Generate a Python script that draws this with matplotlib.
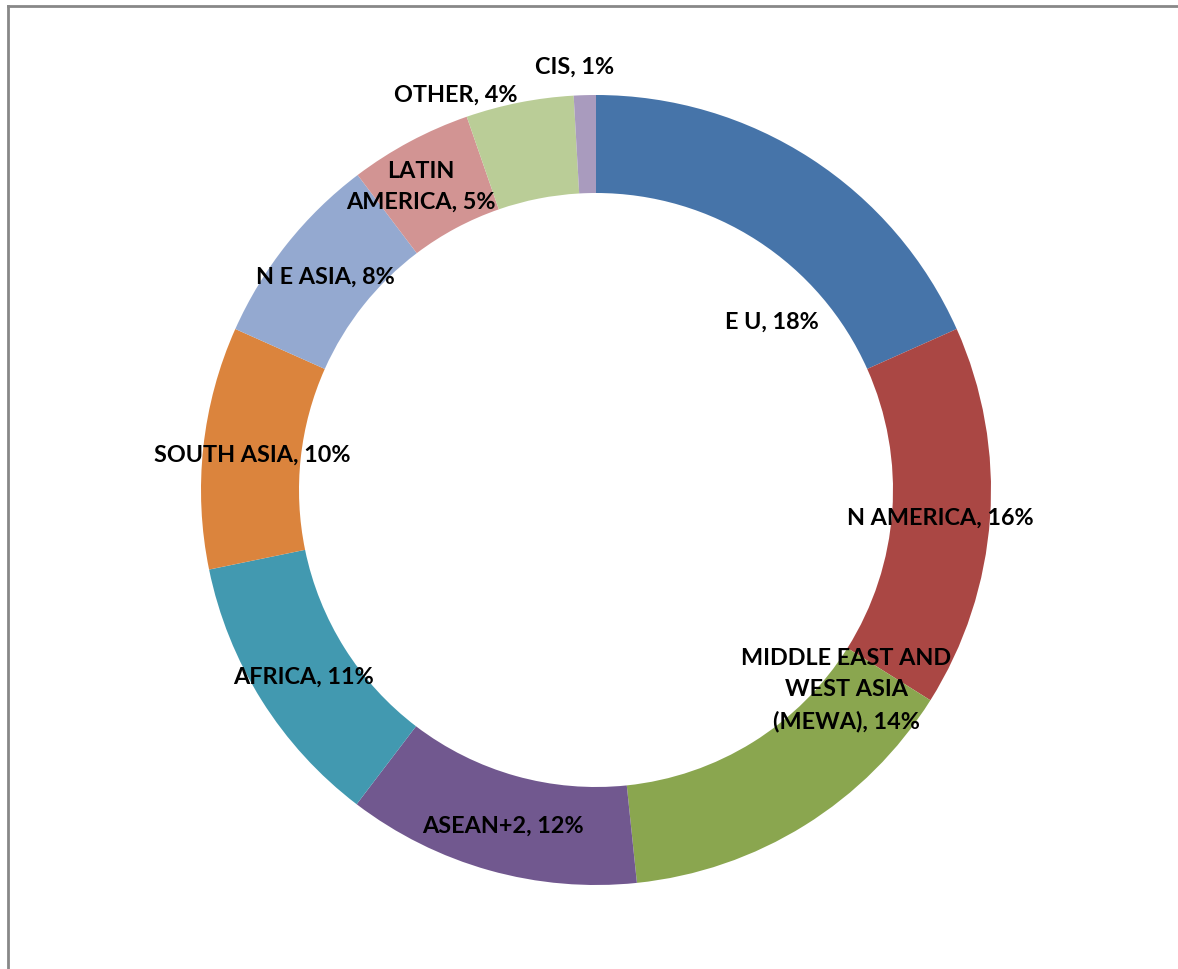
import matplotlib
matplotlib.use('Agg')
import matplotlib.pyplot as plt
from matplotlib.lines import Line2D

# Share of each region (%), clockwise from the top
regions = ['E U', 'N AMERICA', 'MIDDLE EAST AND\nWEST ASIA\n(MEWA)', 'ASEAN+2', 'AFRICA',
           'SOUTH ASIA', 'N E ASIA', 'LATIN\nAMERICA', 'OTHER', 'CIS']
shares = [18.3, 15.6, 14.4, 12.0, 11.4, 9.9, 8.0, 5.0, 4.4, 0.9]
pct_labels = ['18%', '16%', '14%', '12%', '11%', '10%', '8%', '5%', '4%', '1%']
colors = ['#4674A9', '#AA4744', '#8AA64F', '#71588F', '#4299B0',
          '#DB843D', '#94A9D0', '#D29493', '#BACD97', '#A99BBE']

# label centres in pixel coords (x, y from top)
label_pos = [(772, 322), (940, 518), (846, 690), (503, 826), (303, 677),
             (252, 455), (325, 277), (421, 187), (456, 95), (575, 67)]

W, H = 1178, 970
fig = plt.figure(figsize=(W / 100, H / 100), dpi=100)
ax = fig.add_axes([0, 0, 1, 1])

ax.pie(shares, colors=colors, startangle=90, counterclock=False,
       center=(596, H - 491), radius=395,
       wedgeprops=dict(width=98, linewidth=0), frame=True)
ax.set_xlim(0, W)
ax.set_ylim(0, H)
ax.set_aspect('equal')
ax.axis('off')

for name, pct, (x, y) in zip(regions, pct_labels, label_pos):
    ax.text(x, H - y, f'{name}, {pct}', ha='center', va='center',
            fontsize=16.8, fontweight='bold', family='Lato',
            linespacing=1.6, color='black')

# chart area border (left and top edges)
fig.add_artist(Line2D([8 / W, 8 / W], [0, 1 - 7 / H], transform=fig.transFigure,
                      color='#888888', lw=2))
fig.add_artist(Line2D([8 / W, 1], [1 - 7 / H, 1 - 7 / H], transform=fig.transFigure,
                      color='#888888', lw=2))

fig.savefig('out.png', dpi=100)
